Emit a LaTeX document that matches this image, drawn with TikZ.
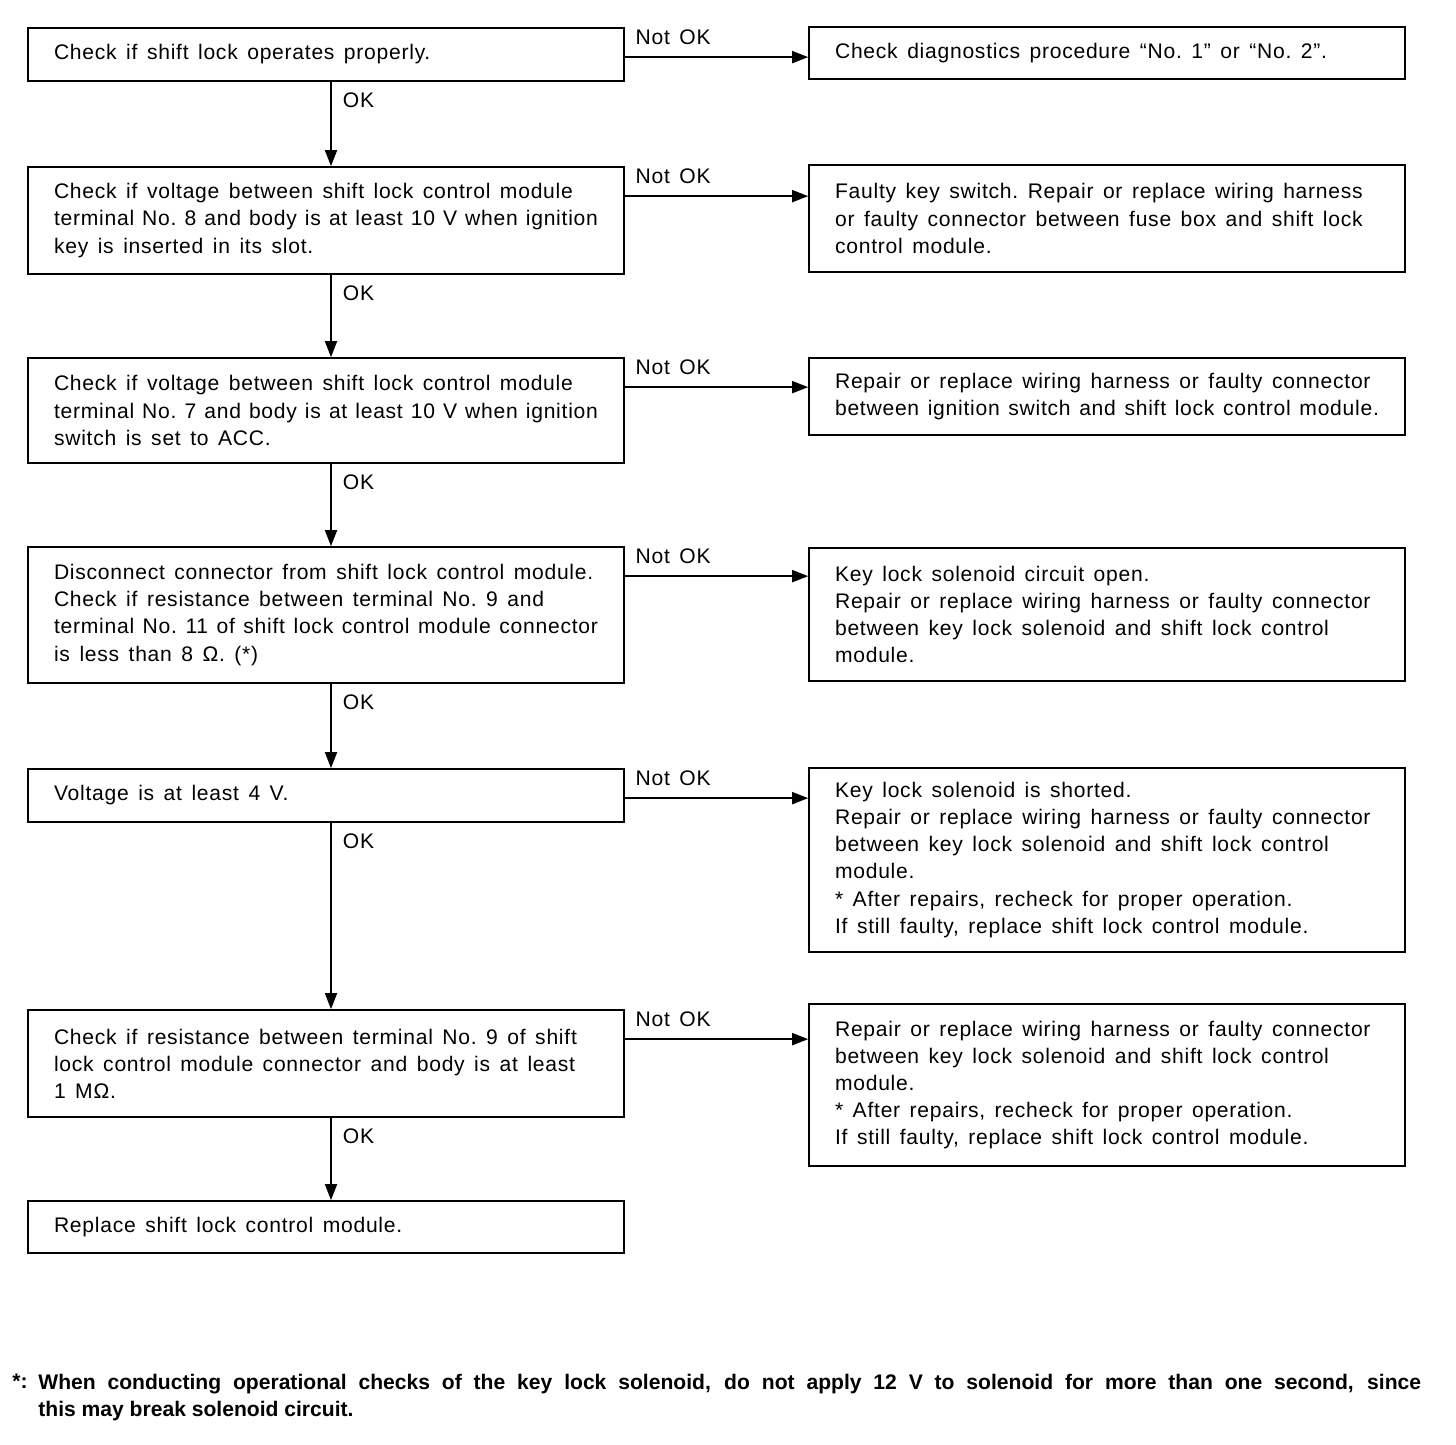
\documentclass[tikz,border=0pt]{standalone}
\usepackage{fontspec}
\setmainfont[LetterSpace=3.5]{Liberation Sans}
\newfontfamily\notefont{Liberation Sans}
\newcommand\widegaps{\frenchspacing\spaceskip=5.4pt plus 1pt minus 1pt\relax}
\usetikzlibrary{positioning,arrows.meta}
\tikzset{
  chk/.style={draw, line width=1pt, rectangle, text width=10.88cm, inner xsep=0.52cm,
    inner ysep=0pt, align=left, font=\fontsize{12}{15.4}\selectfont, execute at begin node=\widegaps},
  flow/.style={line width=1pt, -{Triangle[length=0.32cm,width=0.24cm]}},
  nok/.style={anchor=south west, inner sep=0pt, xshift=0.2cm, yshift=0.24cm, font=\fontsize{12}{15.4}\selectfont, execute at begin node=\widegaps},
  ok/.style={anchor=north west, inner sep=0pt, xshift=0.22cm, yshift=-0.2cm, font=\fontsize{12}{15.4}\selectfont}
}

\begin{document}
\begin{tikzpicture}[x=0.02cm,y=-0.02cm]
	\useasboundingbox (0,0) rectangle (1456,1444);
	% left column: checks
	\node[chk, minimum height=1.06cm] (c1) at (326,54.5) {Check if shift lock operates properly.};
	\node[chk, minimum height=2.14cm] (c2) at (326,220.5) {Check if voltage between shift lock control module\\terminal No. 8 and body is at least 10 V when ignition\\key is inserted in its slot.};
	\node[chk, minimum height=2.1cm] (c3) at (326,410.5) {Check if voltage between shift lock control module\\terminal No. 7 and body is at least 10 V when ignition\\switch is set to ACC.};
	\node[chk, minimum height=2.72cm] (c4) at (326,615) {Disconnect connector from shift lock control module.\\Check if resistance between terminal No. 9 and\\terminal No. 11 of shift lock control module connector\\is less than 8~Ω. (*)};
	\node[chk, minimum height=1.06cm] (c5) at (326,795.5) {Voltage is at least 4 V.};
	\node[chk, minimum height=2.14cm] (c6) at (326,1063.5) {Check if resistance between terminal No. 9 of shift\\lock control module connector and body is at least\\1 MΩ.};
	\node[chk, minimum height=1.04cm] (c7) at (326,1227) {Replace shift lock control module.};
	% right column: remedies
	\node[chk, minimum height=1.04cm] (r1) at (1107,53) {Check diagnostics procedure “No. 1” or “No. 2”.};
	\node[chk, minimum height=2.14cm] (r2) at (1107,218.5) {Faulty key switch. Repair or replace wiring harness\\or faulty connector between fuse box and shift lock\\control module.};
	\node[chk, minimum height=1.54cm] (r3) at (1107,396.5) {Repair or replace wiring harness or faulty connector\\between ignition switch and shift lock control module.};
	\node[chk, minimum height=2.66cm] (r4) at (1107,614.5) {Key lock solenoid circuit open.\\Repair or replace wiring harness or faulty connector\\between key lock solenoid and shift lock control\\module.};
	\node[chk, minimum height=3.68cm] (r5) at (1107,860) {Key lock solenoid is shorted.\\Repair or replace wiring harness or faulty connector\\between key lock solenoid and shift lock control\\module.\\{}* After repairs, recheck for proper operation.\\If still faulty, replace shift lock control module.};
	\node[chk, minimum height=3.24cm] (r6) at (1107,1085) {Repair or replace wiring harness or faulty connector\\between key lock solenoid and shift lock control\\module.\\{}* After repairs, recheck for proper operation.\\If still faulty, replace shift lock control module.};
	% OK arrows
	\foreach \a/\b in {c1/c2,c2/c3,c3/c4,c4/c5,c5/c6,c6/c7}
		\draw[flow] ([xshift=0.1cm]\a.south) -- node[ok,pos=0]{OK} ([xshift=0.1cm]\b.north);
	% Not OK arrows
	\foreach \a/\b in {c1/r1,c2/r2,c3/r3,c4/r4,c5/r5,c6/r6}
		\draw[flow] ([yshift=-0.6cm]\a.north east) -- node[nok,pos=0]{Not OK} ([yshift=-0.6cm]\a.north east -| \b.west);
	% footnote
	\node[anchor=north west, inner sep=0pt, font=\notefont\bfseries\fontsize{12}{15}\selectfont] (star) at (12,1374) {*:};
	\node[anchor=north west, inner sep=0pt, text width=27.66cm, align=justify, font=\notefont\bfseries\fontsize{12}{15.2}\selectfont] (note) at (38,1374) {When conducting operational checks of the key lock solenoid, do not apply 12 V to solenoid for more than one second, since\linebreak this may break solenoid circuit.};
\end{tikzpicture}
\end{document}
